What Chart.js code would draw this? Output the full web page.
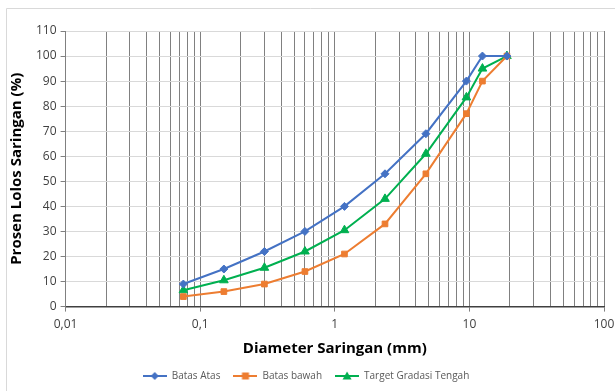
<!DOCTYPE html>
<html>
<head>
<meta charset="utf-8">
<script src="https://cdn.jsdelivr.net/npm/chart.js@4/dist/chart.umd.min.js"></script>
<style>
  html, body { margin: 0; padding: 0; background: #fff; }
  #wrap { width: 615px; height: 391px; }
</style>
</head>
<body>
<div id="wrap"><canvas id="chart" width="615" height="391"></canvas></div>
<script>
// sieve diameters (mm) and percent passing
const sieveSizes = [0.075, 0.15, 0.3, 0.6, 1.18, 2.36, 4.75, 9.5, 12.5, 19];
const batasAtas = [9, 15, 22, 30, 40, 53, 69, 90, 100, 100];
const batasBawah = [4, 6, 9, 14, 21, 33, 53, 77, 90, 100];
const targetTengah = [6.5, 10.5, 15.5, 22, 30.5, 43, 61, 83.5, 95, 100];

const seriesNames = ['Batas Atas', 'Batas bawah', 'Target Gradasi Tengah'];
const seriesColors = ['#4472C4', '#ED7D31', '#00B050'];
const seriesMarkers = ['rectRot', 'rect', 'triangle'];

const FONT = '"Open Sans", "Liberation Sans", sans-serif';

function toPoints(values) {
  return sieveSizes.map((x, i) => ({ x, y: values[i] }));
}

function isDecade(v) {
  const e = Math.log10(v);
  return Math.abs(e - Math.round(e)) < 1e-9;
}

// legend swatch: short line with marker in the middle
function legendSwatch(color, marker) {
  const c = document.createElement('canvas');
  c.width = 24; c.height = 10;
  const g = c.getContext('2d');
  g.strokeStyle = color; g.fillStyle = color; g.lineWidth = 2;
  g.beginPath(); g.moveTo(0, 5); g.lineTo(24, 5); g.stroke();
  g.beginPath();
  if (marker === 'rect') {
    g.rect(8.5, 1.5, 7, 7);
  } else if (marker === 'rectRot') {
    g.moveTo(12, 1); g.lineTo(16, 5); g.lineTo(12, 9); g.lineTo(8, 5); g.closePath();
  } else {
    g.moveTo(12, 0.5); g.lineTo(16.5, 8.5); g.lineTo(7.5, 8.5); g.closePath();
  }
  g.fill();
  return c;
}

const frame = {
  id: 'frame',
  beforeDraw(chart) {
    const g = chart.ctx;
    g.save();
    g.strokeStyle = '#d9d9d9';
    g.lineWidth = 1;
    g.beginPath();
    g.moveTo(6.5, 391); g.lineTo(6.5, 8.5); g.lineTo(615, 8.5);
    g.stroke();
    g.restore();
  }
};

const allValues = [batasAtas, batasBawah, targetTengah];
const swatches = seriesColors.map((c, i) => legendSwatch(c, seriesMarkers[i]));

new Chart(document.getElementById('chart'), {
  type: 'line',
  data: {
    datasets: seriesNames.map((name, i) => ({
      label: name,
      data: toPoints(allValues[i]),
      borderColor: seriesColors[i],
      backgroundColor: seriesColors[i],
      borderWidth: 2,
      pointStyle: seriesMarkers[i],
      pointRadius: seriesMarkers[i] === 'triangle' ? 5 : 4,
      pointBorderWidth: 1,
      tension: 0
    }))
  },
  options: {
    responsive: false,
    animation: false,
    layout: { padding: { left: 8, right: 11, top: 31, bottom: 0 } },
    plugins: {
      legend: {
        position: 'bottom',
        labels: {
          usePointStyle: true,
          pointStyleWidth: 24,
          padding: 13,
          color: '#595959',
          font: { family: FONT, size: 10 },
          generateLabels(chart) {
            return chart.data.datasets.map((ds, i) => ({
              text: ds.label,
              pointStyle: swatches[i],
              fillStyle: ds.borderColor,
              strokeStyle: ds.borderColor,
              lineWidth: 0,
              fontColor: '#595959',
              datasetIndex: i
            }));
          }
        }
      },
      tooltip: { enabled: false }
    },
    scales: {
      x: {
        type: 'logarithmic',
        min: 0.01,
        max: 100,
        afterBuildTicks(scale) {
          const ticks = [];
          for (let e = -2; e <= 1; e++) {
            for (let m = 1; m <= 9; m++) {
              ticks.push({ value: Number((m * Math.pow(10, e)).toPrecision(3)) });
            }
          }
          ticks.push({ value: 100 });
          scale.ticks = ticks;
        },
        afterFit(scale) {
          scale.paddingRight = 0;
        },
        ticks: {
          autoSkip: false,
          maxRotation: 0,
          color: '#404040',
          font: { family: FONT, size: 12 },
          padding: 6,
          callback: (v) => isDecade(v) ? String(v).replace('.', ',') : ''
        },
        grid: {
          color: '#808080',
          tickLength: 5,
          tickColor: (ctx) => (ctx.tick && isDecade(ctx.tick.value)) ? '#808080' : 'rgba(0,0,0,0)'
        },
        border: { color: '#404040', width: 1.5 },
        title: {
          display: true,
          text: 'Diameter Saringan (mm)',
          color: '#000',
          font: { family: FONT, size: 15, weight: 'bold' },
          padding: { top: 2, bottom: 0 }
        }
      },
      y: {
        min: 0,
        max: 110,
        ticks: {
          stepSize: 10,
          color: '#404040',
          font: { family: FONT, size: 12 },
          padding: 4
        },
        grid: { color: '#d9d9d9', tickLength: 5, tickColor: '#808080' },
        border: { color: '#808080' },
        title: {
          display: true,
          text: 'Prosen Lolos Saringan (%)',
          color: '#000',
          font: { family: FONT, size: 15, weight: 'bold' },
          padding: { top: 0, bottom: 6 }
        }
      }
    }
  },
  plugins: [frame]
});
</script>
</body>
</html>
